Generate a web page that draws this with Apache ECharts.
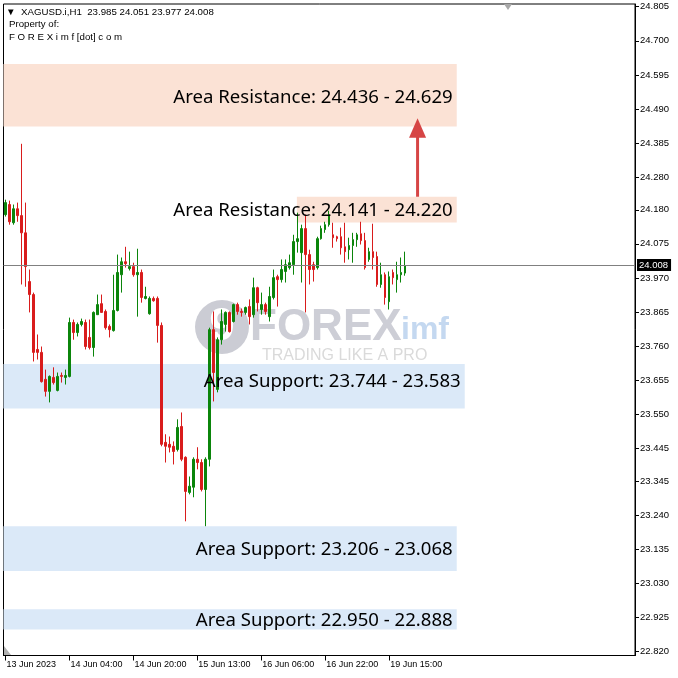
<!DOCTYPE html>
<html><head><meta charset="utf-8">
<script src="https://cdn.jsdelivr.net/npm/echarts@6/dist/echarts.min.js"></script>
<style>html,body{margin:0;padding:0;background:#fff}#c{width:678px;height:678px}</style>
</head><body><div id="c"></div>
<script>
// ---- data ----
const opens = [24.165,24.196,24.140,24.183,24.162,24.109,23.959,23.919,23.750,23.741,
  23.658,23.621,23.664,23.624,23.670,23.664,23.667,23.833,23.802,23.827,
  23.833,23.787,23.756,23.857,23.891,23.867,23.821,23.808,23.870,23.980,
  24.020,23.999,24.005,23.980,23.987,23.907,23.860,23.907,23.907,23.824,
  23.464,23.458,23.452,23.442,23.513,23.418,23.310,23.326,23.412,23.402,
  23.319,23.412,23.811,23.627,23.780,23.827,23.864,23.836,23.888,23.867,
  23.864,23.882,23.857,23.940,23.873,23.888,23.851,23.910,23.974,23.965,
  23.990,24.002,24.011,24.082,24.048,24.122,24.042,24.011,24.002,24.091,
  24.119,24.134,24.103,24.097,24.097,24.066,24.057,24.070,24.088,24.106,
  24.085,24.027,24.051,24.036,23.950,23.980,23.897,23.987,23.965,23.980,
  23.985];
const closes = [24.202,24.143,24.183,24.162,24.109,24.005,23.919,23.741,23.741,23.651,
  23.621,23.667,23.648,23.667,23.667,23.670,23.833,23.802,23.827,23.836,
  23.759,23.756,23.864,23.888,23.864,23.817,23.811,23.870,23.987,24.020,
  24.014,24.005,23.980,23.987,23.910,23.913,23.907,23.900,23.824,23.458,
  23.452,23.449,23.436,23.510,23.412,23.313,23.329,23.412,23.402,23.319,
  23.412,23.811,23.679,23.780,23.836,23.864,23.805,23.888,23.867,23.864,
  23.879,23.851,23.940,23.894,23.888,23.867,23.913,23.971,23.965,23.996,
  24.011,24.017,24.082,24.091,24.122,24.042,23.996,23.996,24.091,24.122,
  24.134,24.165,24.094,24.091,24.063,24.051,24.070,24.088,24.103,24.085,
  24.002,24.051,24.033,23.950,23.980,23.910,23.974,23.971,23.980,23.987,
  24.008];
const lows = [24.159,24.134,24.134,24.143,23.950,23.943,23.864,23.713,23.719,23.648,
  23.605,23.587,23.642,23.621,23.648,23.642,23.664,23.780,23.790,23.821,
  23.750,23.750,23.728,23.857,23.864,23.811,23.787,23.805,23.867,23.925,
  24.002,23.993,23.974,23.851,23.894,23.904,23.857,23.897,23.771,23.452,
  23.402,23.433,23.396,23.436,23.406,23.221,23.304,23.295,23.381,23.313,
  23.206,23.390,23.590,23.618,23.765,23.805,23.802,23.833,23.857,23.851,
  23.857,23.827,23.848,23.867,23.857,23.857,23.836,23.904,23.882,23.956,
  23.956,23.996,23.980,24.048,23.956,23.864,23.950,23.959,23.996,24.088,
  24.109,24.128,24.063,24.082,24.042,24.017,24.027,24.017,24.066,24.073,
  23.996,24.020,23.996,23.943,23.940,23.888,23.873,23.950,23.925,23.956,
  23.977];
const highs = [24.211,24.208,24.196,24.202,24.383,24.202,23.996,23.925,23.796,23.759,
  23.688,23.670,23.695,23.679,23.679,23.688,23.848,23.842,23.833,23.845,
  23.842,23.842,23.867,23.919,23.919,23.873,23.827,23.980,24.042,24.033,
  24.066,24.051,24.017,24.060,23.996,23.943,23.913,23.913,23.913,23.833,
  23.489,23.482,23.467,23.535,23.556,23.421,23.359,23.418,23.449,23.412,
  23.418,23.817,23.867,23.787,23.873,23.867,23.867,23.891,23.894,23.876,
  23.882,23.904,23.971,23.943,23.925,23.894,23.943,23.996,23.980,24.027,
  24.027,24.042,24.103,24.171,24.134,24.165,24.057,24.020,24.097,24.131,
  24.143,24.177,24.140,24.100,24.125,24.140,24.094,24.109,24.109,24.143,
  24.109,24.063,24.137,24.051,24.017,23.987,23.990,23.996,24.020,24.033,
  24.051];
const futureSlots = 57;
const xTickIndex = [0, 16, 32, 48, 64, 80, 96];
const xTickLabels = ['13 Jun 2023','14 Jun 04:00','14 Jun 20:00','15 Jun 13:00','16 Jun 06:00','16 Jun 22:00','19 Jun 15:00'];
const yTickValues = [24.805,24.700,24.595,24.490,24.385,24.280,24.180,24.075,23.970,23.865,
  23.760,23.655,23.550,23.445,23.345,23.240,23.135,23.030,22.925,22.820];
const lastPrice = 24.008;
const headerLine = '\u25BC  XAGUSD.i,H1  23.985 24.051 23.977 24.008';
const zoneLow   = [24.436, 24.141, 23.568, 23.068, 22.888];
const zoneHigh  = [24.629, 24.220, 23.705, 23.206, 22.950];
const zoneStart = [0, 73.4, 0, 0, 0];
const zoneEnd   = [113.4, 113.4, 115.4, 113.4, 113.4];
const zoneKind  = ['res', 'res', 'sup', 'sup', 'sup'];
const zoneLabels = ['Area Resistance: 24.436 - 24.629','Area Resistance: 24.141 - 24.220',
  'Area Support: 23.744 - 23.583','Area Support: 23.206 - 23.068','Area Support: 22.950 - 22.888'];
const zoneLabelPrice = [24.524, 24.176, 23.652, 23.135, 22.916];
const arrowIndex = 103.6, arrowFrom = 24.220, arrowTo = 24.462, arrowHeadBase = 24.405;

// ---- chart ----
const RED = '#d91c1c', GREEN = '#0b850b';
const candles = opens.map((o, i) => [o, closes[i], lows[i], highs[i]]);
const cats = Array.from({length: opens.length + futureSlots}, (_, i) => i);
const tickMap = {}; xTickIndex.forEach((v, i) => tickMap[v] = xTickLabels[i]);
const zoneFill = {res: '#fbe2d5', sup: '#dbe9f8'};
const FONT = '"Liberation Sans", Arial, sans-serif';

function bandLeft(api, price) {
  const p = api.coord([0, price]);
  const bw = api.size([1, 0])[0];
  return {x0: p[0] - bw / 2, y: p[1], bw};
}

const chart = echarts.init(document.getElementById('c'), null, {renderer: 'canvas'});
chart.setOption({
  animation: false,
  backgroundColor: '#fff',
  grid: {left: 3.5, right: 43, top: 4, bottom: 22.5, show: true, borderColor: '#000', borderWidth: 1, backgroundColor: 'transparent'},
  xAxis: {
    type: 'category', data: cats, boundaryGap: true,
    axisLine: {show: true, lineStyle: {color: '#000', width: 1}},
    axisTick: {show: true, length: 5, lineStyle: {color: '#000'}, interval: (i) => tickMap[i] !== undefined, alignWithLabel: true},
    axisLabel: {interval: (i) => tickMap[i] !== undefined, formatter: (v) => tickMap[v] || '', align: 'left', margin: 5,
      fontFamily: FONT, fontSize: 9, color: '#000', padding: [0, 0, 0, 1]},
    splitLine: {show: false}
  },
  yAxis: {
    type: 'value', position: 'right', min: 22.808, max: 24.8133, scale: true,
    axisLine: {show: true, lineStyle: {color: '#000', width: 1}},
    axisTick: {show: true, inside: false, length: 4, customValues: yTickValues, lineStyle: {color: '#000'}},
    axisLabel: {customValues: yTickValues, formatter: (v) => v.toFixed(3), margin: 5, fontFamily: FONT, fontSize: 9.5, color: '#000'},
    splitLine: {show: false}
  },
  graphic: [
    {type: 'text', left: 6, top: 7, style: {text: headerLine, font: '9.7px ' + FONT, fill: '#000'}},
    {type: 'text', left: 9, top: 19.5, style: {text: 'Property of:', font: '9.7px ' + FONT, fill: '#000'}},
    {type: 'text', left: 9, top: 32, style: {text: 'F O R E X i m f [dot] c o m', font: '9.7px ' + FONT, fill: '#000'}},
    {type: 'polygon', shape: {points: [[504, 4], [512, 4], [508, 10]]}, style: {fill: '#a8a8a8'}},
    {type: 'polygon', shape: {points: [[4, 646], [4, 655], [11, 655]]}, style: {fill: '#b0b0b0'}},
    // watermark
    {type: 'group', z: 0, children: [
      {type: 'circle', shape: {cx: 222, cy: 327, r: 27}, style: {fill: '#cbccd4'}},
      {type: 'text', x: 222, y: 327, style: {text: '9', font: 'bold 46px ' + FONT, fill: '#fff', align: 'center', verticalAlign: 'middle'}},
      {type: 'text', x: 250, y: 328, style: {text: 'FOREX', font: 'bold 44px ' + FONT, fill: '#cdced6', verticalAlign: 'middle'}},
      {type: 'text', x: 401, y: 330, style: {text: 'imf', font: 'bold 32px ' + FONT, fill: '#c4d8f0', verticalAlign: 'middle'}},
      {type: 'text', x: 262, y: 356, style: {text: 'TRADING LIKE A PRO', font: '16px ' + FONT, fill: '#dadada', verticalAlign: 'middle'}}
    ]}
  ],
  series: [
    {
      type: 'custom', z: 1, silent: true, clip: false,
      data: zoneLow.map((_, i) => [i, zoneLow[i]]),
      renderItem: (params, api) => {
        const i = params.dataIndex;
        const a = bandLeft(api, zoneHigh[i]);
        const yLo = api.coord([0, zoneLow[i]])[1];
        return {type: 'rect', shape: {x: a.x0 + zoneStart[i] * a.bw, y: a.y, width: (zoneEnd[i] - zoneStart[i]) * a.bw, height: yLo - a.y},
          style: {fill: zoneFill[zoneKind[i]]}};
      }
    },
    {
      type: 'candlestick', z: 2, barWidth: 2, data: candles,
      itemStyle: {color: GREEN, color0: RED, borderColor: GREEN, borderColor0: RED, borderWidth: 1},
      markLine: {
        silent: true, symbol: 'none', animation: false,
        lineStyle: {color: '#808080', width: 1, type: 'solid'},
        label: {show: true, position: 'end', distance: 2, formatter: () => lastPrice.toFixed(3), backgroundColor: '#000', color: '#fff',
          fontFamily: FONT, fontSize: 9.5, padding: [1, 3, 1, 2]},
        data: [{yAxis: lastPrice}]
      }
    },
    {
      type: 'custom', z: 5, silent: true, clip: false,
      data: zoneLabels.map((_, i) => [i, zoneLabelPrice[i]]),
      renderItem: (params, api) => {
        const i = params.dataIndex;
        const a = bandLeft(api, zoneLabelPrice[i]);
        return {type: 'text', x: a.x0 + zoneEnd[i] * a.bw - 4, y: a.y,
          style: {text: zoneLabels[i], font: '18.6px "Noto Sans", sans-serif', fill: '#000', align: 'right', verticalAlign: 'middle'}};
      }
    },
    {
      type: 'custom', z: 6, silent: true, clip: false,
      data: [[0, arrowFrom]],
      renderItem: (params, api) => {
        const a = bandLeft(api, arrowFrom);
        const x = a.x0 + arrowIndex * a.bw;
        const yTip = api.coord([0, arrowTo])[1];
        const yBase = api.coord([0, arrowHeadBase])[1];
        return {type: 'group', children: [
          {type: 'line', shape: {x1: x, y1: a.y, x2: x, y2: yBase}, style: {stroke: '#d64545', lineWidth: 3}},
          {type: 'polygon', shape: {points: [[x, yTip], [x - 8.5, yBase + 1], [x + 8.5, yBase + 1]]}, style: {fill: '#d64545'}}
        ]};
      }
    }
  ]
});
</script>
</body></html>
